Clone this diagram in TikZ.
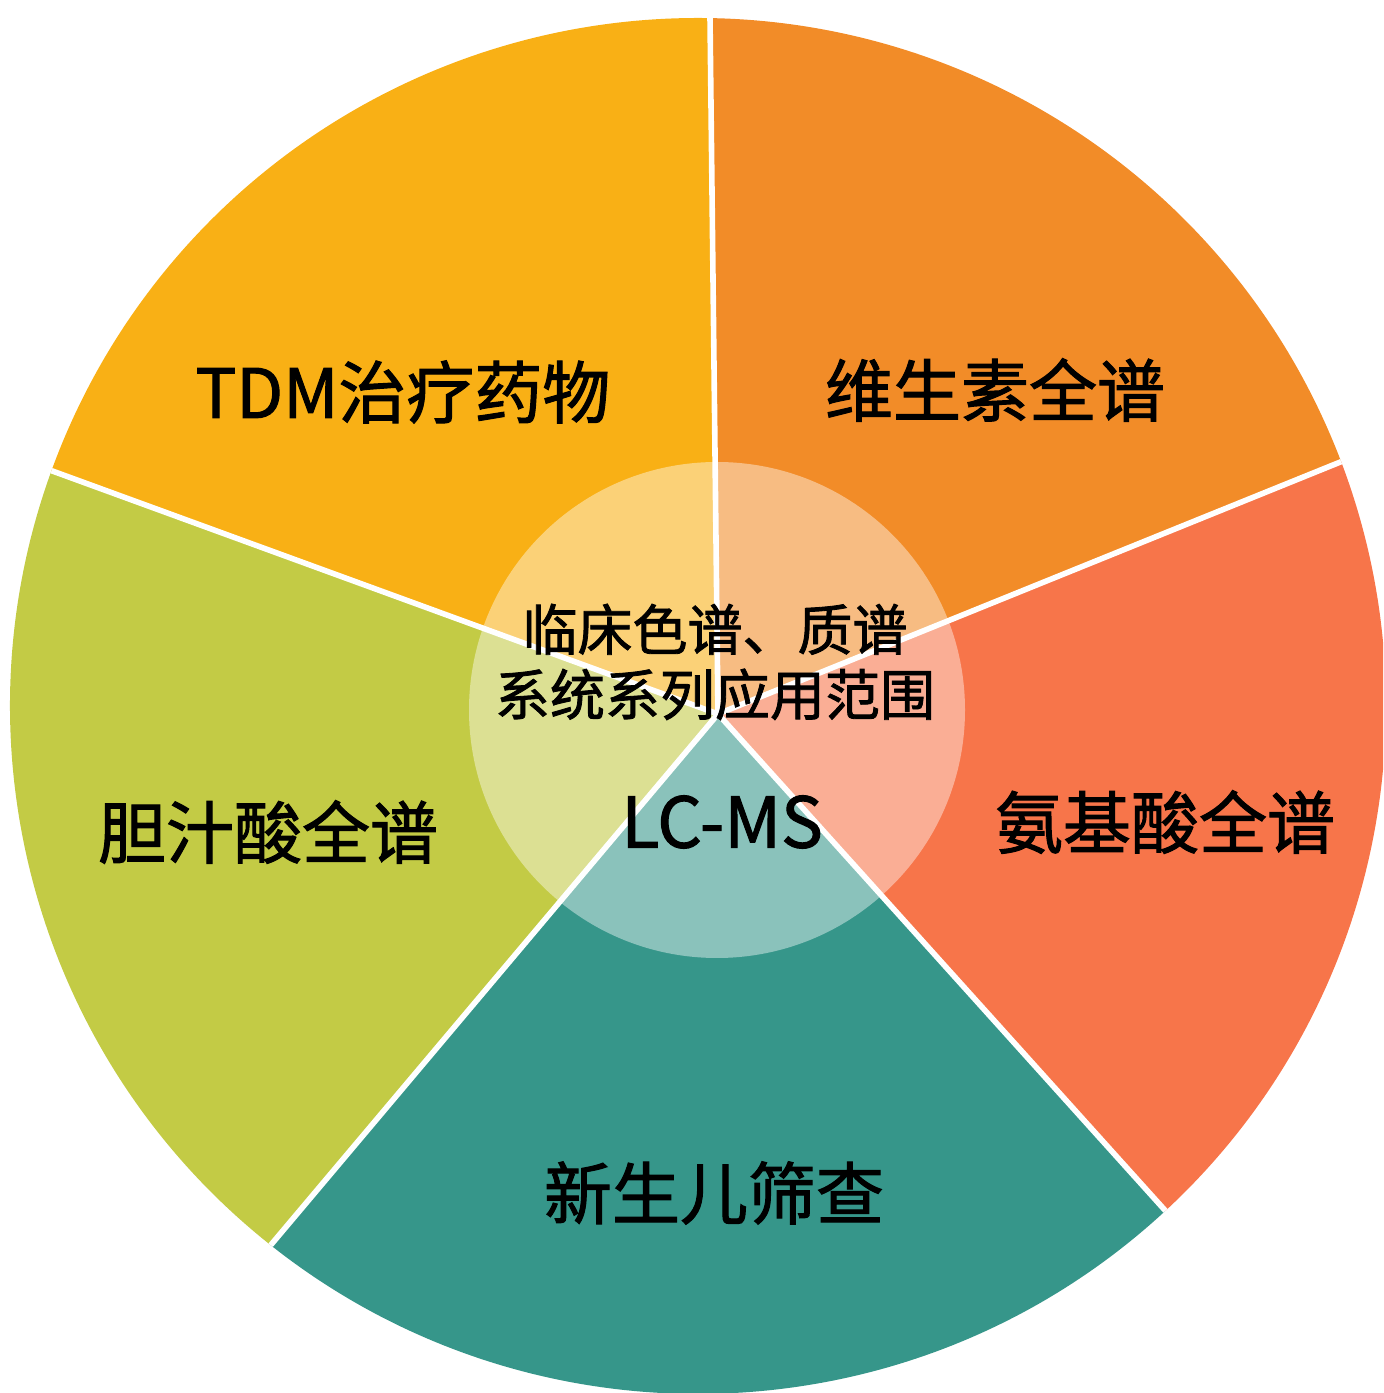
\documentclass[tikz,border=0pt]{standalone}
\usepackage{fontspec}
\setmainfont{Noto Sans CJK SC}
\newfontfamily\lblfont{Noto Sans CJK SC}[FakeBold=1.5]
\usetikzlibrary{calc}
\begin{document}
\begin{tikzpicture}[x=0.5pt,y=0.5pt,
  lbl/.style={font=\lblfont\fontsize{34}{40}\selectfont, text=black, inner sep=0pt},
  mid/.style={font=\lblfont\fontsize{27.5}{32.5}\selectfont, text=black, inner sep=0pt, align=center},
  sep/.style={draw=white, line width=2.8pt},
  ]
\definecolor{cTDM}{RGB}{249,176,21}
\definecolor{cVit}{RGB}{242,140,40}
\definecolor{cAmi}{RGB}{247,117,74}
\definecolor{cNew}{RGB}{54,150,138}
\definecolor{cBil}{RGB}{195,203,69}
\useasboundingbox (0,0) rectangle (1383,1393);
\clip (0,0) rectangle (1383,1393);
\coordinate (C) at (698,687);
\coordinate (A) at (718,679);
\def\R{688}
\coordinate (e1) at ($(C)+(89.0:\R)$);
\coordinate (e2) at ($(C)+(20.8:\R)$);
\coordinate (e3) at ($(C)+(-47.2:\R)$);
\coordinate (e4) at ($(C)+(231.6:\R)$);
\coordinate (e5) at ($(C)+(160.0:\R)$);
% slices
\fill[cVit] (A) -- (e2) arc[start angle=20.8, end angle=89.0, radius=\R] -- cycle;
\fill[cTDM] (A) -- (e1) arc[start angle=89.0, end angle=160.0, radius=\R] -- cycle;
\fill[cBil] (A) -- (e5) arc[start angle=160.0, end angle=231.6, radius=\R] -- cycle;
\fill[cNew] (A) -- (e4) arc[start angle=231.6, end angle=312.8, radius=\R] -- cycle;
\fill[cAmi] (A) -- (e3) arc[start angle=-47.2, end angle=20.8, radius=\R] -- cycle;
% inner translucent disc
\coordinate (IC) at (717,683);
\fill[white, opacity=0.42] (IC) circle (248);
% separators
\foreach \e in {e1,e2,e3,e4,e5} \draw[sep] (A) -- (\e);
% labels
\node[lbl] (tdm) at (403,1001) {TDM治疗药物};
\node[lbl] (vit) at (995,1003) {维生素全谱};
\node[lbl] (ami) at (1165,571) {氨基酸全谱};
\node[lbl] (bil) at (268,561) {胆汁酸全谱};
\node[lbl] (new) at (714,200) {新生儿筛查};
\node[mid] (ctr) at (715,731) {临床色谱、质谱\\系统系列应用范围};
\node[lbl, font=\lblfont\fontsize{35}{40}\selectfont] (lcms) at (722,571) {LC-MS};
\end{tikzpicture}
\end{document}
